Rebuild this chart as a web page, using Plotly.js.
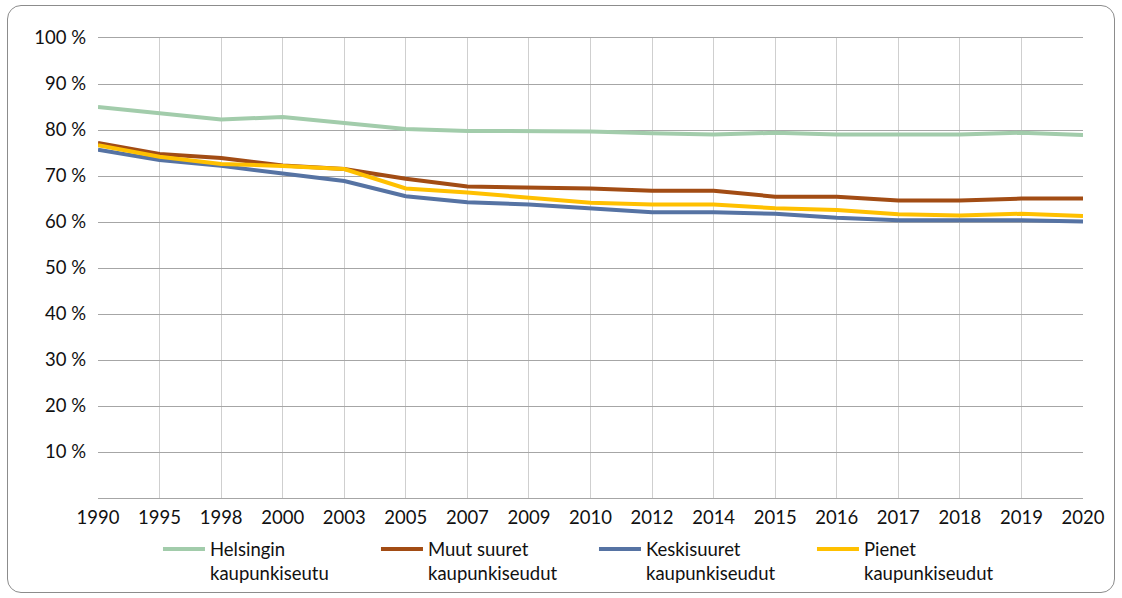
<!DOCTYPE html>
<html>
<head>
<meta charset="utf-8">
<script src="https://cdn.plot.ly/plotly-3.0.1.min.js"></script>
<style>
  html, body { margin: 0; padding: 0; background: #fff; }
  #wrap { position: relative; width: 1122px; height: 598px; }
  #chart { position: absolute; left: 0; top: 0; width: 1122px; height: 598px; }
  #frame { position: absolute; left: 7px; top: 5px; width: 1106px; height: 586px;
           border: 1px solid #8c8c8c; border-radius: 14px; pointer-events: none; }
</style>
</head>
<body>
<div id="wrap"><div id="chart"></div><div id="frame"></div></div>
<script>
const years = ["1990","1995","1998","2000","2003","2005","2007","2009","2010","2012","2014","2015","2016","2017","2018","2019","2020"];
const seriesNames = ["Helsingin<br>kaupunkiseutu", "Muut suuret<br>kaupunkiseudut", "Keskisuuret<br>kaupunkiseudut", "Pienet<br>kaupunkiseudut"];
const helsinki   = [85.0, 83.6, 82.3, 82.8, 81.6, 80.2, 79.8, 79.8, 79.7, 79.3, 79.0, 79.4, 79.0, 79.0, 79.0, 79.4, 78.9];
const muutSuuret = [77.2, 74.8, 73.9, 72.3, 71.5, 69.4, 67.7, 67.6, 67.3, 66.8, 66.8, 65.5, 65.5, 64.7, 64.7, 65.1, 65.1];
const keskisuuret= [75.7, 73.5, 72.2, 70.5, 68.9, 65.6, 64.3, 63.8, 63.0, 62.1, 62.1, 61.8, 60.9, 60.4, 60.4, 60.4, 60.1];
const pienet     = [76.7, 74.2, 72.6, 72.2, 71.5, 67.3, 66.4, 65.4, 64.2, 63.8, 63.8, 63.0, 62.6, 61.7, 61.4, 61.8, 61.3];
const yTickVals = [10, 20, 30, 40, 50, 60, 70, 80, 90, 100];
const yTickText = ["10 %", "20 %", "30 %", "40 %", "50 %", "60 %", "70 %", "80 %", "90 %", "100 %"];
const colors = ["#A2CCAB", "#A24C14", "#5673A3", "#FFC000"];

const allSeries = [helsinki, muutSuuret, keskisuuret, pienet];
const traces = allSeries.map((vals, i) => ({
  type: "scatter",
  mode: "lines",
  x: years,
  y: vals,
  name: seriesNames[i],
  line: { color: colors[i], width: 4 },
  hoverinfo: "x+y"
}));

const layout = {
  width: 1122, height: 598,
  margin: { l: 98, r: 39, t: 38, b: 100, autoexpand: false },
  paper_bgcolor: "rgba(0,0,0,0)",
  plot_bgcolor: "#fff",
  font: { family: "Lato, 'Open Sans', sans-serif", size: 18.5, color: "#111" },
  showlegend: true,
  legend: {
    orientation: "h", xref: "container", yref: "container",
    x: 0.1408, xanchor: "left", y: 0.113, yanchor: "top",
    valign: "top", font: { size: 18.5, color: "#111" }, traceorder: "normal",
    entrywidth: 161, itemwidth: 42
  },
  xaxis: {
    type: "category", range: [0, years.length - 1],
    showgrid: true, gridcolor: "#cfcfcf", gridwidth: 1,
    showline: true, linecolor: "#a6a6a6", linewidth: 1, mirror: true,
    ticks: "", tickfont: { size: 18.5 }, ticklabelstandoff: 3,
    zeroline: false, fixedrange: true
  },
  yaxis: {
    range: [0, 100], tickvals: yTickVals, ticktext: yTickText,
    showgrid: true, gridcolor: "#a6a6a6", gridwidth: 1,
    showline: false, zeroline: false, ticks: "", ticklabelstandoff: 11,
    tickfont: { size: 18.5 }, fixedrange: true
  }
};

Plotly.newPlot("chart", traces, layout, { displayModeBar: false, staticPlot: true });
</script>
</body>
</html>
